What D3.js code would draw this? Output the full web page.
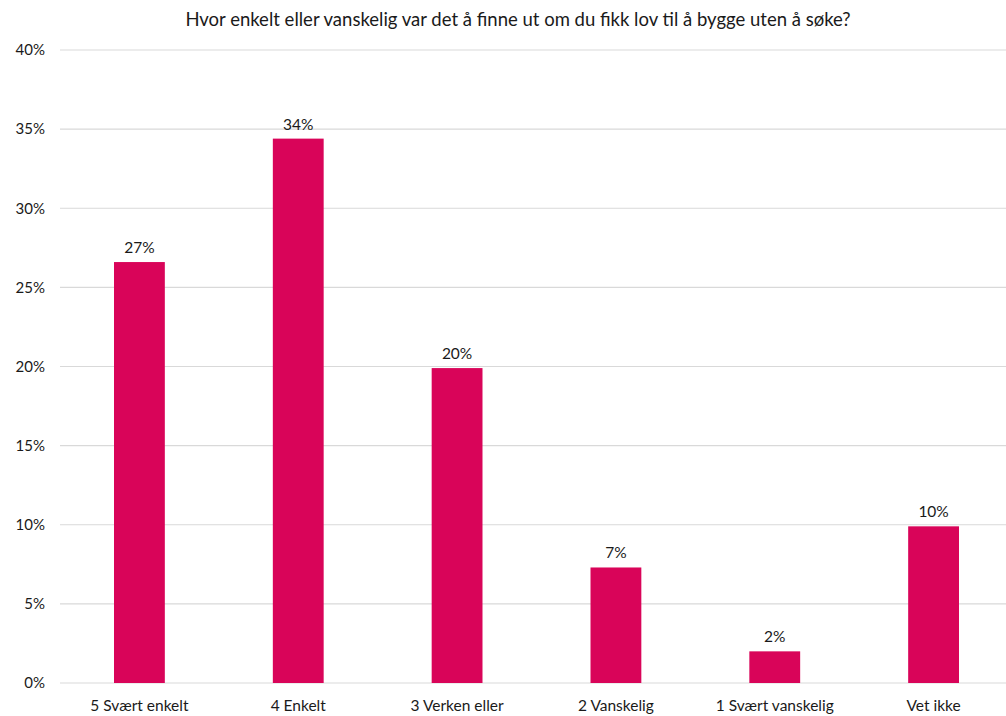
<!DOCTYPE html>
<html>
<head>
<meta charset="utf-8">
<script src="https://cdn.jsdelivr.net/npm/d3@7"></script>
<style>
  html, body { margin: 0; padding: 0; background: #fff; }
  svg { display: block; font-family: Lato, "Open Sans", sans-serif; }
</style>
</head>
<body>
<svg id="chart" width="1006" height="716"></svg>
<script>
const categories = ["5 Svært enkelt", "4 Enkelt", "3 Verken eller", "2 Vanskelig", "1 Svært vanskelig", "Vet ikke"];
const shares = [0.266, 0.344, 0.199, 0.073, 0.020, 0.099];
const yTicks = [0, 0.05, 0.10, 0.15, 0.20, 0.25, 0.30, 0.35, 0.40];
const title = "Hvor enkelt eller vanskelig var det å finne ut om du fikk lov til å bygge uten å søke?";

const svg = d3.select("#chart");
const x = d3.scaleBand().domain(categories).range([60, 1013]).paddingInner(0.68).paddingOuter(0.34);
const y = d3.scaleLinear().domain([0, 0.40]).range([683, 50]);
const pct = d3.format(".0%");

svg.append("text")
  .attr("x", 518).attr("y", 26)
  .attr("text-anchor", "middle")
  .attr("font-size", 18.5).attr("fill", "#1a1a1a")
  .text(title);

// gridlines
svg.append("g")
  .selectAll("line").data(yTicks).join("line")
  .attr("x1", 60).attr("x2", 1006)
  .attr("y1", d => y(d)).attr("y2", d => y(d))
  .attr("stroke", "#d9d9d9").attr("stroke-width", 1.2);

const yAxis = svg.append("g")
  .attr("transform", "translate(45,0)")
  .call(d3.axisLeft(y).tickValues(yTicks).tickFormat(pct).tickSize(0).tickPadding(0));
yAxis.select(".domain").remove();
yAxis.selectAll("text").attr("font-size", 15).attr("fill", "#1a1a1a").attr("font-family", "Lato, 'Open Sans', sans-serif");

const xAxis = svg.append("g")
  .attr("transform", "translate(0,683)")
  .call(d3.axisBottom(x).tickSize(0).tickPadding(17));
xAxis.select(".domain").remove();
xAxis.selectAll("text").attr("font-size", 15.5).attr("fill", "#1a1a1a").attr("font-family", "Lato, 'Open Sans', sans-serif");

svg.append("g")
  .selectAll("rect").data(shares).join("rect")
  .attr("x", (d, i) => x(categories[i]))
  .attr("width", x.bandwidth())
  .attr("y", d => y(d))
  .attr("height", d => y(0) - y(d))
  .attr("fill", "#d90459");

svg.append("g")
  .selectAll("text").data(shares).join("text")
  .attr("x", (d, i) => x(categories[i]) + x.bandwidth() / 2)
  .attr("y", d => y(d) - 9)
  .attr("text-anchor", "middle")
  .attr("font-size", 15.5).attr("fill", "#1a1a1a")
  .text(d => pct(d));
</script>
</body>
</html>
